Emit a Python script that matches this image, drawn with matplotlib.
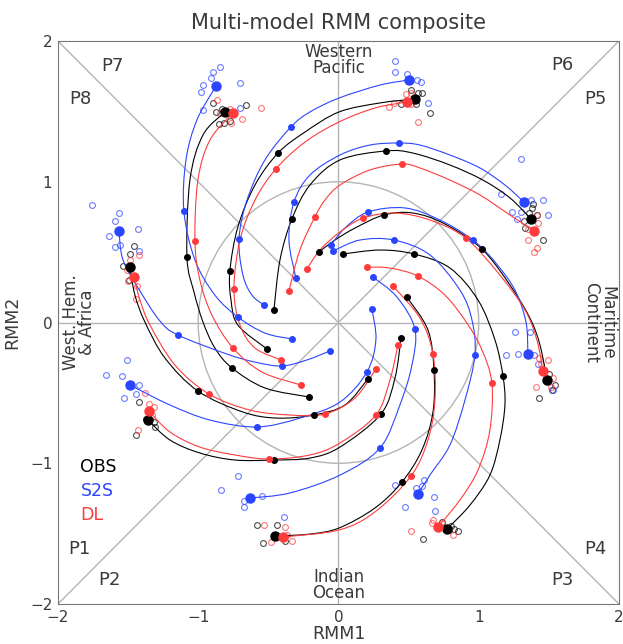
import numpy as np
import matplotlib
matplotlib.use("Agg")
import matplotlib.pyplot as plt
from matplotlib.patches import Circle, PathPatch
from matplotlib.path import Path

# tracks: phase -> (x list, y list), dots at day 10, 20, 30 given by index
obs_tracks = {
    1: ([-1.358, -1.201, -0.988, -0.738, -0.460, -0.203, 0.011, 0.303, 0.403, 0.446],
        [-0.693, -0.835, -0.927, -0.977, -0.977, -0.963, -0.885, -0.650, -0.394, -0.110]),
    2: ([-0.453, -0.203, 0.004, 0.260, 0.453, 0.595, 0.674, 0.681, 0.638, 0.488],
        [-1.517, -1.503, -1.460, -1.318, -1.133, -0.906, -0.636, -0.337, -0.053, 0.181]),
    3: ([0.774, 0.938, 1.080, 1.151, 1.187, 1.173, 1.116, 0.995, 0.795, 0.538, 0.296, 0.032],
        [-1.467, -1.297, -1.084, -0.835, -0.586, -0.380, -0.124, 0.160, 0.387, 0.487, 0.515, 0.487]),
    4: ([1.487, 1.437, 1.365, 1.223, 1.023, 0.759, 0.531, 0.324, 0.118, -0.025, -0.139],
        [-0.409, -0.160, 0.032, 0.266, 0.522, 0.700, 0.778, 0.764, 0.671, 0.586, 0.501]),
    5: ([1.373, 1.223, 1.030, 0.795, 0.531, 0.339, 0.011, -0.203, -0.332, -0.417, -0.460],
        [0.735, 0.885, 1.012, 1.119, 1.204, 1.219, 1.155, 0.977, 0.735, 0.444, 0.089]),
    6: ([0.545, 0.296, 0.004, -0.239, -0.431, -0.595, -0.717, -0.774, -0.766, -0.717, -0.510],
        [1.588, 1.560, 1.496, 1.353, 1.204, 0.977, 0.679, 0.366, 0.160, -0.018, -0.188]),
    7: ([-0.809, -0.966, -1.059, -1.080, -1.030, -0.966, -0.881, -0.759, -0.524, -0.210],
        [1.496, 1.332, 1.012, 0.465, 0.217, 0.004, -0.181, -0.323, -0.465, -0.529]),
    8: ([-1.487, -1.451, -1.380, -1.237, -1.002, -0.681, -0.438, -0.175, 0.046, 0.210],
        [0.394, 0.195, 0.004, -0.252, -0.487, -0.636, -0.679, -0.657, -0.586, -0.401]),
}
obs_dots = {1: [4, 7, 9], 2: [4, 7, 9], 3: [5, 9, 11], 4: [4, 7, 10],
            5: [5, 8, 10], 6: [4, 7, 10], 7: [3, 7, 9], 8: [4, 7, 9]}

s2s_tracks = {
    1: ([-1.487, -1.201, -0.916, -0.581, -0.275, 0.011, 0.203, 0.267, 0.239],
        [-0.444, -0.586, -0.693, -0.742, -0.679, -0.565, -0.352, -0.124, 0.096]),
    2: ([-0.631, -0.346, 0.011, 0.296, 0.438, 0.524, 0.545, 0.417, 0.246],
        [-1.247, -1.211, -1.084, -0.892, -0.586, -0.302, -0.046, 0.181, 0.323]),
    3: ([0.567, 0.652, 0.795, 0.902, 0.973, 0.952, 0.866, 0.652, 0.396, 0.153, -0.039],
        [-1.219, -1.084, -0.870, -0.551, -0.231, 0.018, 0.231, 0.480, 0.586, 0.586, 0.508]),
    4: ([1.351, 1.337, 1.258, 1.116, 0.959, 0.724, 0.474, 0.210, 0.046, -0.053],
        [-0.224, 0.004, 0.231, 0.430, 0.586, 0.728, 0.814, 0.785, 0.671, 0.551]),
    5: ([1.323, 1.187, 1.009, 0.795, 0.581, 0.431, 0.225, 0.011, -0.203, -0.317, -0.353, -0.303],
        [0.856, 0.977, 1.098, 1.190, 1.261, 1.275, 1.261, 1.190, 1.048, 0.856, 0.586, 0.316]),
    6: ([0.503, 0.296, 0.004, -0.203, -0.339, -0.524, -0.652, -0.709, -0.681, -0.617, -0.531],
        [1.723, 1.687, 1.595, 1.496, 1.389, 1.155, 0.870, 0.593, 0.337, 0.195, 0.124]),
    7: ([-0.873, -1.009, -1.087, -1.102, -1.023, -0.881, -0.717, -0.524, -0.332],
        [1.680, 1.439, 1.155, 0.792, 0.444, 0.195, 0.039, -0.075, -0.117]),
    8: ([-1.565, -1.536, -1.415, -1.273, -1.144, -0.795, -0.595, -0.403, -0.225, -0.061],
        [0.650, 0.444, 0.224, 0.011, -0.089, -0.224, -0.281, -0.309, -0.266, -0.202]),
}
s2s_dots = {1: [3, 6, 8], 2: [3, 6, 8], 3: [4, 8, 10], 4: [4, 7, 9],
            5: [5, 9, 11], 6: [4, 7, 10], 7: [3, 6, 8], 8: [4, 7, 9]}

dl_tracks = {
    1: ([-1.351, -1.201, -0.988, -0.738, -0.496, -0.203, 0.011, 0.267, 0.367, 0.424],
        [-0.629, -0.778, -0.885, -0.941, -0.970, -0.941, -0.856, -0.657, -0.409, -0.160]),
    2: ([-0.396, 0.004, 0.260, 0.517, 0.638, 0.688, 0.674, 0.581, 0.389],
        [-1.524, -1.474, -1.346, -1.091, -0.835, -0.551, -0.224, 0.032, 0.259]),
    3: ([0.709, 0.866, 0.995, 1.080, 1.094, 1.023, 0.916, 0.759, 0.567, 0.367, 0.203],
        [-1.453, -1.261, -1.048, -0.764, -0.430, -0.195, -0.004, 0.195, 0.330, 0.387, 0.394]),
    4: ([1.458, 1.415, 1.330, 1.151, 0.909, 0.652, 0.403, 0.175, 0.011, -0.132, -0.225],
        [-0.345, -0.124, 0.089, 0.337, 0.600, 0.728, 0.778, 0.742, 0.643, 0.515, 0.380]),
    5: ([1.394, 1.223, 1.009, 0.795, 0.581, 0.453, 0.225, 0.011, -0.096, -0.168, -0.275, -0.353],
        [0.650, 0.764, 0.906, 1.012, 1.098, 1.126, 1.084, 0.977, 0.870, 0.750, 0.515, 0.224]),
    6: ([0.488, 0.260, 0.004, -0.239, -0.446, -0.595, -0.702, -0.745, -0.702, -0.595, -0.410],
        [1.567, 1.524, 1.425, 1.282, 1.091, 0.870, 0.586, 0.238, -0.018, -0.181, -0.266]),
    7: ([-0.752, -0.916, -1.002, -1.023, -0.988, -0.902, -0.752, -0.545, -0.267],
        [1.489, 1.297, 1.012, 0.579, 0.302, 0.053, -0.181, -0.352, -0.444]),
    8: ([-1.458, -1.415, -1.344, -1.166, -0.923, -0.631, -0.346, -0.096, 0.118, 0.267],
        [0.323, 0.160, -0.018, -0.302, -0.508, -0.622, -0.657, -0.650, -0.536, -0.330]),
}
dl_dots = {1: [4, 7, 9], 2: [3, 6, 8], 3: [4, 8, 10], 4: [4, 7, 10],
           5: [5, 9, 11], 6: [4, 7, 10], 7: [3, 6, 8], 8: [4, 7, 9]}

# individual members at day 0 (open circles)
obs_members = {
    1: ([-1.422, -1.373, -1.316, -1.308, -1.444], [-0.565, -0.686, -0.707, -0.742, -0.799]),
    2: ([-0.581, -0.438, -0.538, -0.381], [-1.439, -1.439, -1.567, -1.552]),
    3: ([0.738, 0.824, 0.852, 0.602, 0.802], [-1.417, -1.467, -1.481, -1.538, -1.446]),
    4: ([1.458, 1.501, 1.544, 1.522, 1.430], [-0.352, -0.366, -0.444, -0.480, -0.536]),
    5: ([1.387, 1.380, 1.358, 1.415, 1.323, 1.330, 1.458], [0.842, 0.814, 0.778, 0.764, 0.721, 0.671, 0.586]),
    6: ([0.517, 0.567, 0.595, 0.446, 0.553, 0.652], [1.652, 1.631, 1.631, 1.552, 1.552, 1.489]),
    7: ([-0.895, -0.660, -0.873, -0.831, -0.852, -0.816, -0.774], [1.560, 1.545, 1.496, 1.517, 1.410, 1.417, 1.432]),
    8: ([-1.458, -1.487, -1.537, -1.494], [0.544, 0.487, 0.401, 0.302]),
}
s2s_members = {
    1: ([-1.508, -1.658, -1.544, -1.422, -1.529, -1.444], [-0.266, -0.373, -0.380, -0.444, -0.536, -0.508]),
    2: ([-0.717, -0.838, -0.545, -0.674, -0.674, -0.389], [-1.091, -1.190, -1.233, -1.268, -1.311, -1.382]),
    3: ([0.403, 0.553, 0.610, 0.595, 0.681, 0.474, 0.688], [-1.155, -1.176, -1.119, -1.162, -1.240, -1.311, -1.339]),
    4: ([1.258, 1.365, 1.194, 1.280, 1.394, 1.423, 1.529], [-0.067, -0.067, -0.231, -0.224, -0.231, -0.295, -0.480]),
    5: ([1.159, 1.458, 1.373, 1.237, 1.273, 1.494, 1.301], [0.913, 0.870, 0.870, 0.785, 0.735, 0.764, 0.785]),
    6: ([0.403, 0.403, 0.488, 0.560, 0.588, 0.638, 1.301], [1.858, 1.780, 1.766, 1.723, 1.709, 1.560, 1.162]),
    7: ([-0.845, -0.895, -0.909, -0.966, -0.980, -0.702, -0.966, -0.702], [1.815, 1.780, 1.737, 1.687, 1.638, 1.702, 1.510, 1.524]),
    8: ([-1.758, -1.565, -1.594, -1.636, -1.430, -1.594, -1.558, -1.422], [0.835, 0.778, 0.721, 0.615, 0.664, 0.536, 0.551, 0.508]),
}
dl_members = {
    1: ([-1.380, -1.351, -1.430, -1.316, -1.330], [-0.501, -0.579, -0.764, -0.600, -0.657]),
    2: ([-0.531, -0.381, -0.481, -0.332, -0.367], [-1.439, -1.453, -1.560, -1.552, -1.510]),
    3: ([0.674, 0.667, 0.738, 0.517, 0.816], [-1.403, -1.425, -1.425, -1.481, -1.510]),
    4: ([1.430, 1.494, 1.444, 1.529, 1.408, 1.515], [-0.252, -0.266, -0.295, -0.394, -0.458, -0.458]),
    5: ([1.415, 1.423, 1.351, 1.351, 1.415, 1.394], [0.764, 0.707, 0.664, 0.586, 0.529, 0.501]),
    6: ([0.481, 0.517, 0.360, 0.396, 0.517, 0.567], [1.624, 1.631, 1.531, 1.560, 1.552, 1.425]),
    7: ([-0.866, -0.553, -0.688, -0.766, -0.845, -0.774], [1.581, 1.524, 1.446, 1.417, 1.489, 1.517]),
    8: ([-1.422, -1.487, -1.508, -1.501, -1.437, -1.444], [0.480, 0.444, 0.373, 0.295, 0.259, 0.167]),
}

phase_labels = ["P1", "P2", "P3", "P4", "P5", "P6", "P7", "P8"]
phase_label_x = [-1.85, -1.63, 1.60, 1.83, 1.83, 1.60, -1.61, -1.84]
phase_label_y = [-1.61, -1.83, -1.83, -1.61, 1.59, 1.83, 1.82, 1.59]

models = ["OBS", "S2S", "DL"]
colors = ["black", "#2a45ff", "#ff3b3b"]


def smooth_path(x, y):
    # Catmull-Rom style bezier through the read points
    pts = np.column_stack([x, y])
    n = len(pts)
    verts = [pts[0]]
    codes = [Path.MOVETO]
    for i in range(n - 1):
        p0 = pts[max(i - 1, 0)]
        p1 = pts[i]
        p2 = pts[i + 1]
        p3 = pts[min(i + 2, n - 1)]
        verts += [p1 + (p2 - p0) / 6, p2 - (p3 - p1) / 6, p2]
        codes += [Path.CURVE4] * 3
    return Path(verts, codes)


fig = plt.figure(figsize=(6.23, 6.44), dpi=100)
ax = fig.add_axes([0.093, 0.0621, 0.9005, 0.8742])
ax.set_xlim(-2, 2)
ax.set_ylim(-2, 2)

grey = "#b4b4b4"
ax.plot([-2, 2], [-2, 2], color=grey, lw=1, zorder=1)
ax.plot([-2, 2], [2, -2], color=grey, lw=1, zorder=1)
ax.axhline(0, color=grey, lw=1, zorder=1)
ax.axvline(0, color=grey, lw=1, zorder=1)
ax.add_patch(Circle((0, 0), 1, fill=False, ec=grey, lw=1, zorder=1))

all_tracks = [obs_tracks, s2s_tracks, dl_tracks]
all_dots = [obs_dots, s2s_dots, dl_dots]
all_members = [obs_members, s2s_members, dl_members]

for members, c in zip(all_members, colors):
    for p in range(1, 9):
        mx, my = members[p]
        ax.plot(mx, my, 'o', mfc='none', mec=c, ms=4.2, mew=0.8, alpha=0.7, zorder=2)
for tracks, dots, c in zip(all_tracks, all_dots, colors):
    for p in range(1, 9):
        x, y = tracks[p]
        ax.add_patch(PathPatch(smooth_path(x, y), fill=False, ec=c, lw=0.8, zorder=3))
        ax.plot(x[0], y[0], 'o', color=c, ms=6.5, zorder=4)
        idx = dots[p]
        ax.plot([x[i] for i in idx], [y[i] for i in idx], 'o', color=c, ms=4, zorder=4)

tc = "#3a3a3a"
for lab, lx, ly in zip(phase_labels, phase_label_x, phase_label_y):
    ax.text(lx, ly, lab, ha='center', va='center', fontsize=13, color=tc)

ax.text(0, 1.865, "Western\nPacific", ha='center', va='center', fontsize=12,
        color=tc, linespacing=0.9)
ax.text(0, -1.865, "Indian\nOcean", ha='center', va='center', fontsize=12,
        color=tc, linespacing=0.9)
ax.text(-1.85, 0, "West. Hem.\n& Africa", ha='center', va='center', fontsize=12,
        color=tc, rotation=90, linespacing=0.9)
ax.text(1.86, 0, "Maritime\nContinent", ha='center', va='center', fontsize=12,
        color=tc, rotation=270, linespacing=0.9)

for k, (m, c) in enumerate(zip(models, colors)):
    ax.text(-1.84, -1.03 - 0.17 * k, m, ha='left', va='center', fontsize=12.5, color=c)

ax.set_xticks([-2, -1, 0, 1, 2])
ax.set_yticks([-2, -1, 0, 1, 2])
ax.tick_params(length=0, labelsize=11, labelcolor=tc, pad=4)
ax.set_xlabel("RMM1", fontsize=12.5, color=tc, labelpad=0)
ax.set_ylabel("RMM2", fontsize=12.5, color=tc, labelpad=6)
for s in ax.spines.values():
    s.set_color("#777777")
ax.set_title("Multi-model RMM composite", fontsize=15, color=tc, pad=9)

fig.savefig("out.png", dpi=100)
